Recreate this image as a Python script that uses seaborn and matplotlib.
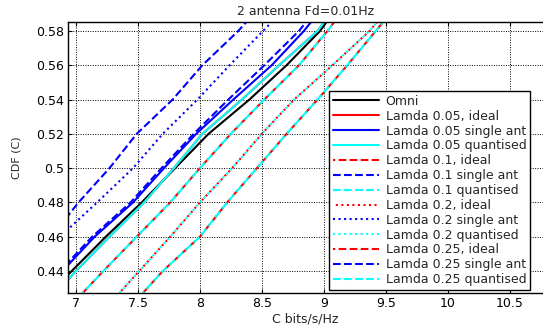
import matplotlib
matplotlib.use("Agg")
import matplotlib.pyplot as plt
import seaborn as sns

# ---- data (x = capacity C bits/s/Hz read at CDF levels) ----
cdf_levels = [0.42, 0.44, 0.46, 0.48, 0.50, 0.52, 0.54, 0.56, 0.58, 0.60]

omni        = [6.70, 6.965, 7.24, 7.53, 7.80, 8.07, 8.40, 8.70, 8.97, 9.17]
l005_ideal  = [6.74, 7.00, 7.27, 7.55, 7.79, 8.02, 8.34, 8.64, 8.95, 9.15]
l005_single = [6.62, 6.89, 7.15, 7.46, 7.71, 7.97, 8.27, 8.58, 8.84, 9.06]
l005_quant  = [6.74, 7.00, 7.27, 7.55, 7.79, 8.02, 8.34, 8.64, 8.95, 9.15]
l01_ideal   = [6.96, 7.22, 7.49, 7.76, 8.00, 8.25, 8.52, 8.80, 9.03, 9.24]
l01_single  = [6.60, 6.87, 7.13, 7.44, 7.69, 7.95, 8.23, 8.52, 8.80, 9.02]
l01_quant   = [6.96, 7.22, 7.49, 7.76, 8.00, 8.25, 8.52, 8.80, 9.03, 9.24]
l02_ideal   = [7.26, 7.51, 7.76, 8.00, 8.26, 8.50, 8.76, 9.07, 9.37, 9.60]
l02_single  = [6.37, 6.62, 6.87, 7.17, 7.46, 7.70, 7.98, 8.24, 8.51, 8.78]
l02_quant   = [7.26, 7.51, 7.76, 8.00, 8.26, 8.50, 8.76, 9.07, 9.37, 9.60]
l025_ideal  = [7.45, 7.70, 8.00, 8.22, 8.46, 8.70, 8.95, 9.19, 9.42, 9.65]
l025_single = [6.28, 6.55, 6.80, 7.02, 7.27, 7.49, 7.78, 8.02, 8.31, 8.56]
l025_quant  = [7.45, 7.70, 8.00, 8.22, 8.46, 8.70, 8.95, 9.19, 9.42, 9.65]

labels = ["Omni",
          "Lamda 0.05, ideal", "Lamda 0.05 single ant", "Lamda 0.05 quantised",
          "Lamda 0.1, ideal", "Lamda 0.1 single ant", "Lamda 0.1 quantised",
          "Lamda 0.2, ideal", "Lamda 0.2 single ant", "Lamda 0.2 quantised",
          "Lamda 0.25, ideal", "Lamda 0.25 single ant", "Lamda 0.25 quantised"]
series = [omni, l005_ideal, l005_single, l005_quant,
          l01_ideal, l01_single, l01_quant,
          l02_ideal, l02_single, l02_quant,
          l025_ideal, l025_single, l025_quant]

xticks = [7, 7.5, 8, 8.5, 9, 9.5, 10, 10.5]
xticklabels = ["7", "7.5", "8", "8.5", "9", "9.5", "10", "10.5"]
yticks = [0.44, 0.46, 0.48, 0.50, 0.52, 0.54, 0.56, 0.58]
yticklabels = ["0.44", "0.46", "0.48", "0.5", "0.52", "0.54", "0.56", "0.58"]

# ---- styles ----
lw = 1.5
dash = (3.7, 1.6)
dot = (1.0, 1.65)
styles = [
    ("black", "-"),
    ("red", "-"), ("blue", "-"), ("cyan", "-"),
    ("red", (2.6, dash)), ("blue", (0, dash)), ("cyan", (0, dash)),
    ("red", (1.3, dot)), ("blue", (0, dot)), ("cyan", (0, dot)),
    ("red", (2.6, dash)), ("blue", (0, dash)), ("cyan", (0, dash)),
]

sns.set_theme(style="white")
plt.rcParams["font.family"] = ["DejaVu Sans"]
plt.rcParams["font.size"] = 9

fig = plt.figure(figsize=(5.43, 3.25), dpi=100)
ax = fig.add_axes([68/543, 1 - 293/325, 1 - 68/543, (293 - 22)/325])

handles = []
for vals, lab, (col, ls) in zip(series, labels, styles):
    sns.lineplot(x=vals, y=cdf_levels, ax=ax, color=col, linestyle=ls,
                 linewidth=lw, estimator=None, sort=False, legend=False)
    handles.append(ax.lines[-1])

ax.set_xlim(6.935, 10.77)
ax.set_ylim(0.4272, 0.5852)
ax.set_xticks(xticks)
ax.set_xticklabels(xticklabels, fontsize=9)
ax.set_yticks(yticks)
ax.set_yticklabels(yticklabels, fontsize=9)
ax.tick_params(direction="in", length=3, width=0.8, colors="black", pad=3,
               top=True, left=True, bottom=True)
ax.grid(True, color="black", linestyle=(0, (1, 1.5)), linewidth=0.7)
ax.set_axisbelow(True)
for s in ["left", "bottom", "top"]:
    ax.spines[s].set_color("black")
    ax.spines[s].set_linewidth(1.0)
ax.spines["right"].set_visible(False)

ax.set_title("2 antenna Fd=0.01Hz", fontsize=9, pad=5)
ax.set_xlabel("C bits/s/Hz", fontsize=9, labelpad=2)
ax.set_ylabel("CDF (C)", fontsize=8, labelpad=10)

leg = ax.legend(handles, labels, loc="lower right",
                bbox_to_anchor=((530 - 68) / (543 - 68), 3 / 271),
                borderaxespad=0, fontsize=9, handlelength=3.7,
                handletextpad=0.5, labelspacing=0.15, borderpad=0.3,
                fancybox=False, framealpha=1, edgecolor="black")
leg.get_frame().set_linewidth(1.0)

fig.savefig("out.png", dpi=100)
